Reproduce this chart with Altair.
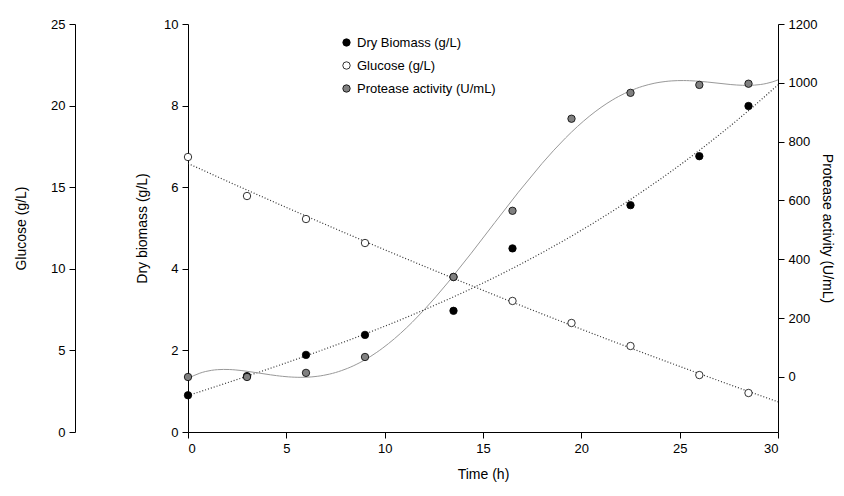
import pandas as pd
import altair as alt

time_h = [0, 3, 6, 9, 13.5, 16.5, 19.5, 22.5, 26, 28.5]
biomass_t = [0, 3, 6, 9, 13.5, 16.5, 22.5, 26, 28.5]
biomass = [0.9, 1.37, 1.89, 2.38, 2.97, 4.5, 5.56, 6.76, 7.99]
glucose = [16.85, 14.46, 13.05, 11.58, 9.5, 8.03, 6.68, 5.27, 3.49, 2.39]
protease = [0, 0, 14, 68, 340, 565, 878, 966, 993, 997]

series = ["Dry Biomass (g/L)", "Glucose (g/L)", "Protease activity (U/mL)"]
fills = ["black", "white", "#808080"]

bio = pd.DataFrame({"t": biomass_t, "v": biomass, "s": series[0]})
glu = pd.DataFrame({"t": time_h, "v": glucose, "s": series[1]})
pro = pd.DataFrame({"t": time_h, "v": protease, "s": series[2]})

font = "Liberation Sans"
x = alt.X("t:Q", scale=alt.Scale(domain=[0, 30], nice=False),
          axis=alt.Axis(title="Time (h)", values=[0, 5, 10, 15, 20, 25, 30], titlePadding=12))
color = alt.Color("s:N", scale=alt.Scale(domain=series, range=fills),
                  legend=alt.Legend(title=None, orient="none", legendX=152, legendY=12,
                                    symbolStrokeColor="black", symbolStrokeWidth=0.8,
                                    symbolSize=55, labelFontSize=13, rowPadding=9, labelFont=font))


def pts(df, y):
    return alt.Chart(df).mark_point(filled=True, size=55, stroke="black", strokeWidth=0.8, opacity=1).encode(
        x=x, y=y, fill=color)


y_bio = alt.Y("v:Q", scale=alt.Scale(domain=[0, 10], nice=False),
              axis=alt.Axis(title="Dry biomass (g/L)", values=[0, 2, 4, 6, 8, 10], titlePadding=14))
y_glu = alt.Y("v:Q", scale=alt.Scale(domain=[0, 25], nice=False),
              axis=alt.Axis(title="Glucose (g/L)", orient="left", offset=113,
                            values=[0, 5, 10, 15, 20, 25], titlePadding=22))
y_pro = alt.Y("v:Q", scale=alt.Scale(domain=[-187, 1200], nice=False),
              axis=alt.Axis(title="Protease activity (U/mL)", orient="right", format="d", titleAngle=90,
                            values=[0, 200, 400, 600, 800, 1000, 1200], titlePadding=3))

bio_line = alt.Chart(bio).transform_regression("t", "v", method="poly", order=3, extent=[0, 30]).mark_line(
    color="#333", strokeDash=[1, 2], strokeWidth=1.2).encode(x=x, y=y_bio)
glu_line = alt.Chart(glu).transform_regression("t", "v", method="poly", order=2, extent=[0, 30]).mark_line(
    color="#333", strokeDash=[1, 2], strokeWidth=1.2).encode(x=x, y=y_glu)
pro_line = alt.Chart(pro).transform_regression("t", "v", method="poly", order=5, extent=[0, 30]).mark_line(
    color="#999", strokeWidth=1).encode(x=x, y=y_pro)

chart = alt.layer(
    alt.layer(bio_line, pts(bio, y_bio)),
    alt.layer(glu_line, pts(glu, y_glu)),
    alt.layer(pro_line, pts(pro, y_pro)),
).resolve_scale(y="independent").properties(
    width=590, height=408, autosize=alt.AutoSizeParams(type="none"),
    padding={"left": 180, "top": 16, "right": 58, "bottom": 56}
).configure_view(stroke=None).configure_axis(
    grid=False, domainColor="black", tickColor="black", labelColor="black", titleColor="black",
    labelFont=font, titleFont=font, labelFontSize=13, titleFontSize=14, titleFontWeight="normal",
    tickSize=6, labelPadding=4
)

chart.save("out.html", embed_options={"renderer": "svg", "actions": False})
